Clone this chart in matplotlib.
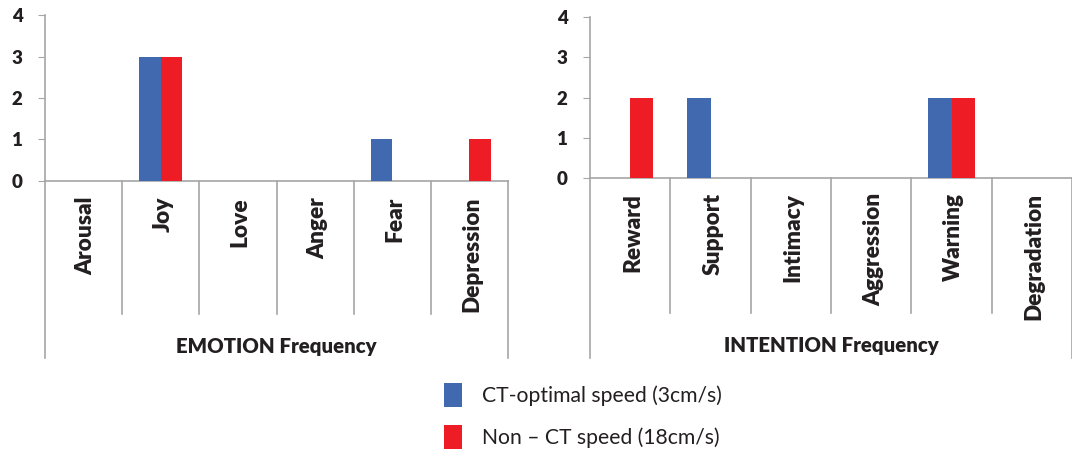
import matplotlib
matplotlib.use("Agg")
import matplotlib.pyplot as plt
import numpy as np

plt.rcParams['font.family'] = ['Lato', 'DejaVu Sans']

# Data
emotion_cats = ['Arousal', 'Joy', 'Love', 'Anger', 'Fear', 'Depression']
emotion_ct = [0, 3, 0, 0, 1, 0]
emotion_nonct = [0, 3, 0, 0, 0, 1]

intention_cats = ['Reward', 'Support', 'Intimacy', 'Aggression', 'Warning', 'Degradation']
intention_ct = [0, 2, 0, 0, 2, 0]
intention_nonct = [2, 0, 0, 0, 2, 0]

series_labels = ['CT-optimal speed (3cm/s)', 'Non \u2013 CT speed (18cm/s)']
blue = '#4169B0'
red = '#EE1C25'
grey = '#A6A6A6'
txt = '#231F20'

fig = plt.figure(figsize=(10.72, 4.51), dpi=100)


def panel(rect, cats, ct, nonct, title, width, div_bottom, axis_bottom, lab_top, title_y):
    ax = fig.add_axes(rect)
    x = np.arange(len(cats))
    b1 = ax.bar(x - width / 2, ct, width, color=blue, zorder=3)
    b2 = ax.bar(x + width / 2, nonct, width, color=red, zorder=3)
    ax.set_xlim(-0.5, len(cats) - 0.5)
    ax.set_ylim(0, 4)
    ax.set_yticks(range(5))
    ax.tick_params(axis='y', length=5, color=grey, labelsize=13.5, labelcolor=txt, pad=11)
    for t in ax.get_yticklabels():
        t.set_fontweight('heavy')
    ax.set_xticks([])
    for s in ['top', 'right']:
        ax.spines[s].set_visible(False)
    for s in ['left', 'bottom']:
        ax.spines[s].set_color(grey)
        ax.spines[s].set_linewidth(1.2)

    tr = ax.get_xaxis_transform()
    # category dividers
    for xb in np.arange(len(cats) + 1) - 0.5:
        bottom = axis_bottom if xb in (-0.5, len(cats) - 0.5) else div_bottom
        ax.plot([xb, xb], [0, bottom], transform=tr, color=grey, lw=1.2, clip_on=False)
    for i, c in enumerate(cats):
        ax.text(i + 0.03, lab_top, c, transform=tr, rotation=90, ha='center', va='top',
                fontsize=16.3, fontweight='heavy', color=txt)
    ax.text((len(cats) - 1) / 2, title_y, title, transform=tr, ha='center', va='center',
            fontsize=14.7, fontweight='heavy', color=txt)
    return b1, b2


b1, b2 = panel([0.0420, 0.5987, 0.4319, 0.368], emotion_cats, emotion_ct, emotion_nonct,
               'EMOTION Frequency', 0.28, -0.80, -1.066, -0.096, -1.0)
panel([0.5504, 0.6053, 0.4496, 0.357], intention_cats, intention_ct, intention_nonct,
      'INTENTION Frequency', 0.29, -0.839, -1.118, -0.093, -1.04)

fig.legend([b1, b2], series_labels, loc='upper left', bbox_to_anchor=(444 / 1072, 1 - 383 / 451),
           frameon=False, fontsize=15.2, handlelength=0.85, handleheight=1.37,
           handletextpad=0.95, labelspacing=0.85, borderpad=0, borderaxespad=0,
           labelcolor=txt)

fig.savefig('out.png', dpi=100)
